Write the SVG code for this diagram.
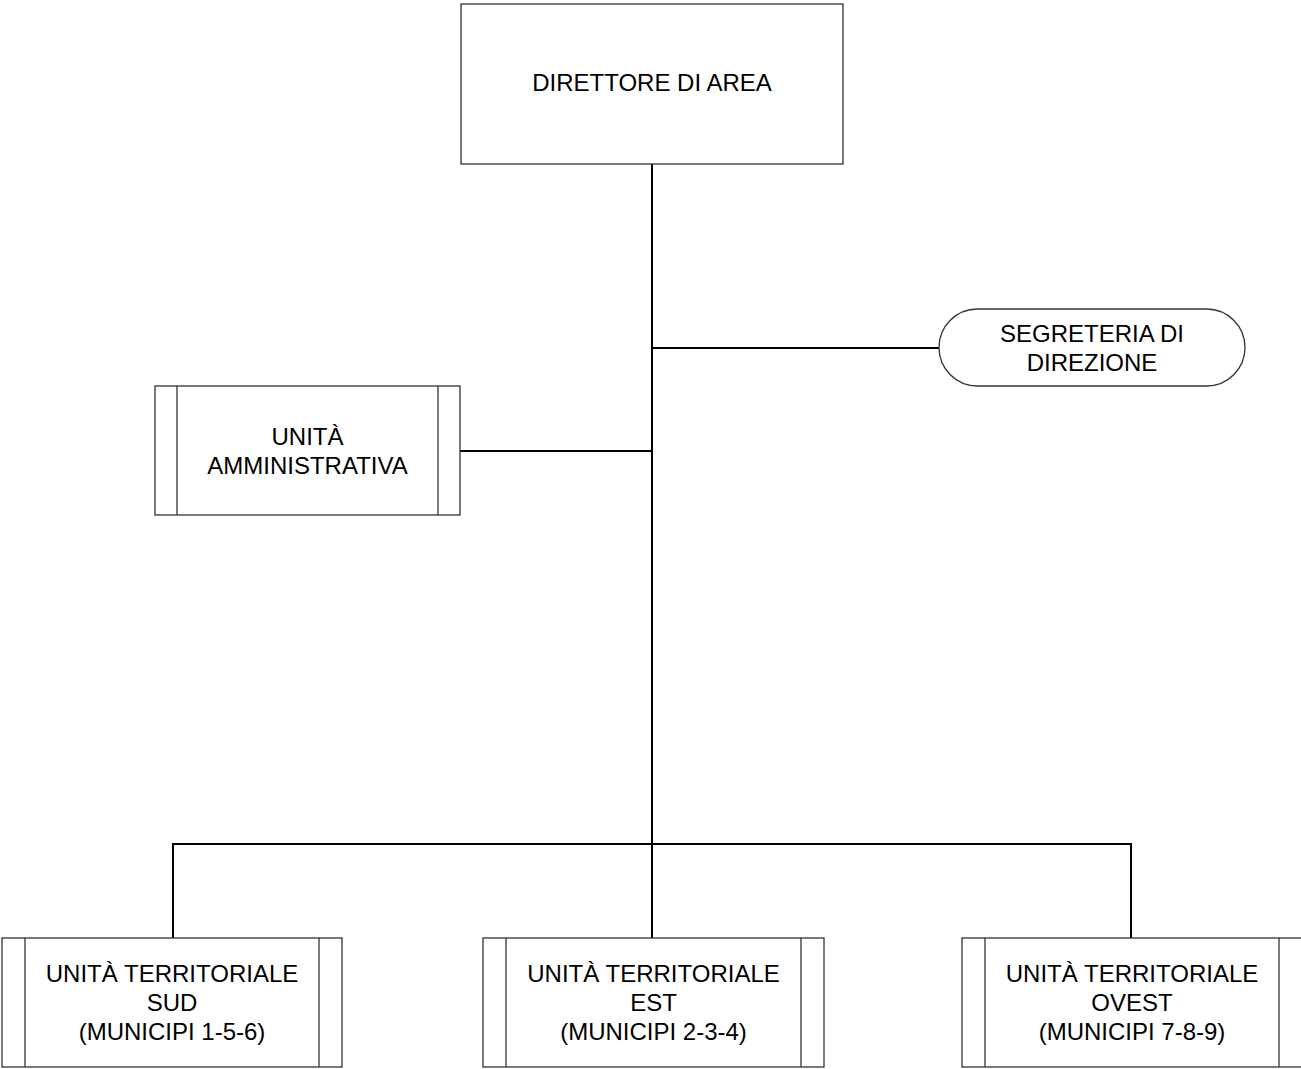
<svg xmlns="http://www.w3.org/2000/svg" width="1301" height="1069" viewBox="0 0 1301 1069">
<style>
.box{fill:#fff;stroke:#333;stroke-width:1.3}
.inner{stroke:#333;stroke-width:1.3;fill:none}
.conn{stroke:#000;stroke-width:2;fill:none}
text{font-family:"Liberation Sans",Arial,sans-serif;font-size:24px;fill:#000;text-anchor:middle}
</style>
<rect width="1301" height="1069" fill="#fff"/>
<g id="connectors">
<path class="conn" d="M652 164V938"/>
<path class="conn" d="M652 348H939"/>
<path class="conn" d="M460 451H652"/>
<path class="conn" d="M173 938V844H1131V938"/>
</g>
<g id="direttore">
<rect class="box" x="461" y="4" width="382" height="160"/>
<text x="652" y="91">DIRETTORE DI AREA</text>
</g>
<g id="segreteria">
<rect class="box" x="939" y="309" width="306" height="77" rx="38.5" ry="38.5"/>
<text x="1092" y="341.5">SEGRETERIA DI</text>
<text x="1092" y="370.5">DIREZIONE</text>
</g>
<g id="amministrativa">
<rect class="box" x="155" y="386" width="305" height="129"/>
<path class="inner" d="M177 386V515M438 386V515"/>
<text x="307.5" y="444.5">UNITÀ</text>
<text x="307.5" y="473.5">AMMINISTRATIVA</text>
</g>
<g id="sud">
<rect class="box" x="2" y="938" width="340" height="129"/>
<path class="inner" d="M25 938V1067M319 938V1067"/>
<text x="172" y="982">UNITÀ TERRITORIALE</text>
<text x="172" y="1011">SUD</text>
<text x="172" y="1040">(MUNICIPI 1-5-6)</text>
</g>
<g id="est">
<rect class="box" x="483" y="938" width="341" height="129"/>
<path class="inner" d="M506 938V1067M801 938V1067"/>
<text x="653.5" y="982">UNITÀ TERRITORIALE</text>
<text x="653.5" y="1011">EST</text>
<text x="653.5" y="1040">(MUNICIPI 2-3-4)</text>
</g>
<g id="ovest">
<rect class="box" x="962" y="938" width="340" height="129"/>
<path class="inner" d="M985 938V1067M1279 938V1067"/>
<text x="1132" y="982">UNITÀ TERRITORIALE</text>
<text x="1132" y="1011">OVEST</text>
<text x="1132" y="1040">(MUNICIPI 7-8-9)</text>
</g>
</svg>
